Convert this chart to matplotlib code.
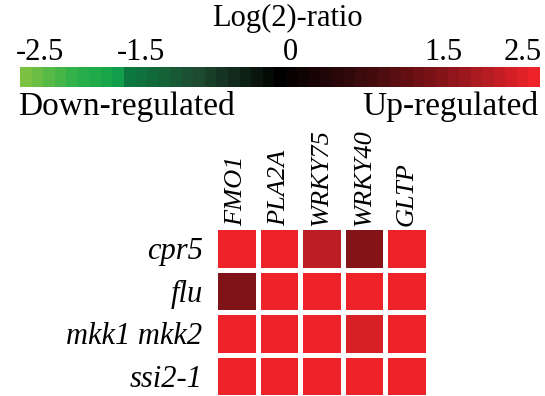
import matplotlib
matplotlib.use("Agg")
import matplotlib.pyplot as plt
import numpy as np
from matplotlib.colors import LinearSegmentedColormap, Normalize
from matplotlib.cm import ScalarMappable

genes = ["FMO1", "PLA2A", "WRKY75", "WRKY40", "GLTP"]
mutants = ["cpr5", "flu", "mkk1 mkk2", "ssi2-1"]
log2_ratio = [
    [2.5, 2.5, 2.1, 1.6, 2.5],
    [1.55, 2.5, 2.5, 2.5, 2.5],
    [2.5, 2.5, 2.5, 2.3, 2.5],
    [2.5, 2.5, 2.5, 2.5, 2.5],
]
cbar_ticklabels = ["-2.5", "-1.5", "0", "1.5", "2.5"]

anchors = [
    (-2.5, "#7cc242"),
    (-2.0, "#2bb04a"),
    (-1.6, "#13a24b"),
    (-1.5, "#0b7a40"),
    (-0.8, "#1e4a30"),
    (0.0, "#000000"),
    (0.8, "#3a0a0c"),
    (1.5, "#7a1216"),
    (2.0, "#b01c22"),
    (2.5, "#ee2229"),
]
cmap = LinearSegmentedColormap.from_list(
    "gr", [((v + 2.5) / 5.0, c) for v, c in anchors])
norm = Normalize(-2.5, 2.5)

serif = "Liberation Serif"
W, H = 545, 396
fig = plt.figure(figsize=(W / 100, H / 100), dpi=100)

# colour key
x0, x1 = 20, 540
cax = fig.add_axes([x0 / W, 1 - 87 / H, (x1 - x0) / W, 20 / H])
sm = ScalarMappable(norm=norm, cmap=cmap.resampled(45))
cb = fig.colorbar(sm, cax=cax, orientation="horizontal", ticks=[])
cb.outline.set_visible(False)
# tick labels sit slightly inside the bar ends, as in the original key
label_px = [40, 141, 290, 443, 523]
for px, lab in zip(label_px, cbar_ticklabels):
    fig.text(px / W, 1 - 52 / H, lab, ha="center", va="center",
             fontfamily=serif, fontsize=22)
fig.text(287 / W, 1 - 18 / H, "Log(2)-ratio", ha="center", va="center",
         fontfamily=serif, fontsize=22)
fig.text(18 / W, 1 - 106 / H, "Down-regulated", ha="left", va="center",
         fontfamily=serif, fontsize=24)
fig.text(538 / W, 1 - 106 / H, "Up-regulated", ha="right", va="center",
         fontfamily=serif, fontsize=24)

# heatmap
ax = fig.add_axes([215 / W, 1 - 397 / H, 213 / W, 170 / H])
data = np.array(log2_ratio)
ax.pcolormesh(data, cmap=cmap, norm=norm, edgecolors="white", linewidth=2.5)
ax.set_xlim(0, len(genes))
ax.set_ylim(len(mutants), 0)
ax.xaxis.set_ticks_position("top")
ax.set_xticks(np.arange(len(genes)) + 0.5)
ax.set_xticklabels(genes, rotation=90, fontfamily=serif, fontstyle="italic",
                   fontsize=19)
ax.set_yticks(np.arange(len(mutants)) + 0.5)
ax.set_yticklabels(mutants, fontfamily=serif, fontstyle="italic", fontsize=22)
ax.tick_params(axis="x", length=0, pad=1)
ax.tick_params(axis="y", length=0, pad=9)
for s in ax.spines.values():
    s.set_visible(False)

fig.savefig("out.png", dpi=100, facecolor="white")
